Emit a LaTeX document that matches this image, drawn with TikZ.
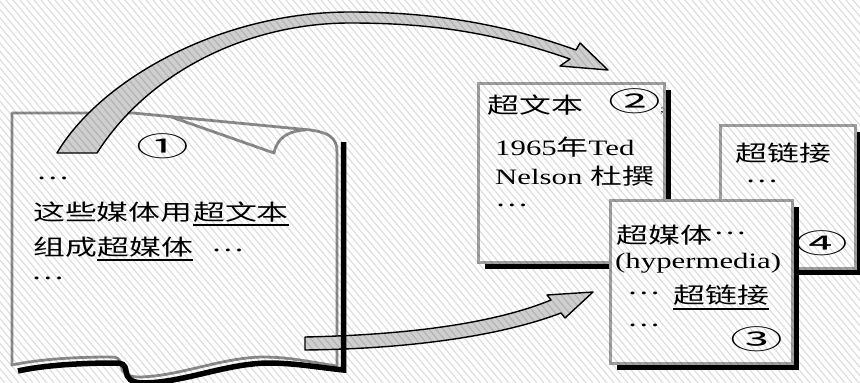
\documentclass[tikz,border=0pt]{standalone}
\usepackage{fontspec}
\setmainfont{Liberation Serif}[FakeStretch=1.4]
\newfontfamily\cjk{Noto Sans CJK SC}[FakeStretch=1.45]
\newfontfamily\circfont{Noto Sans CJK SC}[FakeStretch=1.95]
\usetikzlibrary{shadows}
\definecolor{edgegray}{HTML}{8C8C8C}
\definecolor{boxgray}{HTML}{A0A0A0}
\definecolor{arrowfill}{HTML}{CFCFCF}
\definecolor{stripe}{HTML}{DCDCDC}
\begin{document}
\begin{tikzpicture}[x=1pt,y=-1pt,
  txt/.style={inner sep=0pt, font=\fontsize{22}{26}\selectfont},
  dots/.style={inner sep=0pt, font=\fontsize{24}{26}\selectfont},
  num/.style={inner sep=0pt, font=\fontsize{27}{30}\selectfont\circfont},
  panel/.style={draw=boxgray, line width=3pt, fill=white, inner sep=0pt,
    drop shadow={shadow xshift=7pt, shadow yshift=-7pt, fill=black, opacity=1}},
  uline/.style={line width=2.2pt, black},
  blockarrow/.style={fill=arrowfill, draw=black, line width=1.4pt, line join=round},
  docedge/.style={draw=edgegray, line width=2.8pt, line join=round},
  docshadow/.style={draw=black, line width=5.5pt},
]
\useasboundingbox (0,0) rectangle (860,383);
\fill[white] (0,0) rectangle (860,383);

% ---------- left document page ----------
\path[fill=white] (12,113) -- (133,113) -- (300,129)
  .. controls (330,131) and (337,138) .. (337,152) -- (337,366)
  .. controls (310,362) and (290,357) .. (262,357)
  .. controls (220,358) and (180,376) .. (140,377)
  .. controls (125,377) and (122,372) .. (121,365)
  .. controls (120,358) and (117,357) .. (110,357)
  .. controls (70,357) and (35,360) .. (12,365) -- cycle;
\draw[docedge] (12,113) -- (133,113) -- (300,129)
  .. controls (330,131) and (337,138) .. (337,152) -- (337,366)
  .. controls (310,362) and (290,357) .. (262,357)
  .. controls (220,358) and (180,376) .. (140,377)
  .. controls (125,377) and (122,372) .. (121,365)
  .. controls (120,358) and (117,357) .. (110,357)
  .. controls (70,357) and (35,360) .. (12,365) -- cycle;
% curled corner
\draw[docedge] (170,116.5) -- (274,153)
  .. controls (277,138) and (288,131) .. (305,130);

% lower block arrow (from page to box 3)
\draw[blockarrow] (305,337) .. controls (400,335) and (490,325) .. (551,300)
  -- (547,295) -- (593,292) -- (565,318) -- (561,313)
  .. controls (495,338) and (400,349) .. (305,350) -- cycle;

% page shadow
\draw[docshadow] (343.5,142) -- (343.5,370)
  .. controls (315,367) and (295,363) .. (267,363)
  .. controls (225,364) and (185,382) .. (145,383)
  .. controls (130,383) and (127,378) .. (126,371)
  .. controls (125,364) and (122,363) .. (115,363)
  .. controls (75,363) and (40,366) .. (18,371);

% upper block arrow (from page to box 2)
\draw[blockarrow] (57,153) .. controls (100,80) and (220,12) .. (350,12)
  .. controls (450,12) and (520,30) .. (576,50)
  -- (580,43) -- (608,70) -- (560,66) -- (570,59)
  .. controls (500,35) and (440,23) .. (350,23)
  .. controls (250,23) and (150,70) .. (97,153) -- cycle;

% page text
\node[num] (n1) at (163,146) {①};
\node[dots, anchor=west] (d1) at (36,178) {…};
\node[txt, anchor=base west] (d2a) at (33,220) {\cjk 这些媒体用};
\node[txt, anchor=base west] (d2b) at (d2a.base east) {\cjk 超文本};
\node[txt, anchor=base west] (d3a) at (33,255) {\cjk 组成};
\node[txt, anchor=base west] (d3b) at (d3a.base east) {\cjk 超媒体};
\node[dots, anchor=west] (d3c) at (211,250) {…};
\node[dots, anchor=west] (d4) at (31,278) {…};
\draw[uline] ([yshift=-3pt]d2b.south west) -- ([yshift=-3pt]d2b.south east);
\draw[uline] ([yshift=-3pt]d3b.south west) -- ([yshift=-3pt]d3b.south east);

% ---------- box 2 ----------
\node[panel, minimum width=186pt, minimum height=179pt] (b2) at (571,172.5) {};
\node[txt, anchor=base west] (t2a) at (487,113) {\cjk 超文本};
\node[num] (n2) at (635,101) {②};
\node[inner sep=0pt, font=\fontsize{10}{10}\selectfont, anchor=base west] (semi) at (660,112) {;};
\node[txt, anchor=base west] (t2b) at (495,155) {1965{\cjk 年}Ted};
\node[txt, anchor=base west] (t2c) at (495,184) {Nelson {\cjk 杜撰}};
\node[dots, anchor=west] (t2d) at (495,205) {…};

% ---------- box 4 ----------
\node[panel, minimum width=135pt, minimum height=143pt] (b4) at (787.5,196.5) {};
\node[txt, anchor=base west] (t4a) at (735,161) {\cjk 超链接};
\node[dots, anchor=west] (t4b) at (745,181) {…};
\node[num] (n4) at (822,243) {④};

% ---------- box 3 ----------
\node[panel, minimum width=182pt, minimum height=163pt] (b3) at (701,281.5) {};
\coordinate (row1) at (0,233);
\node[txt, anchor=base west] (t3a) at (616,243) {\cjk 超媒体};
\node[dots, anchor=west] (t3b) at ([xshift=1pt]t3a.east |- row1) {…};
\node[txt, anchor=base west] (t3c) at (615,268) {(hypermedia)};
\node[dots, anchor=west] (t3d) at (627,293) {…};
\node[txt, anchor=base west] (t3e) at (673,303) {\cjk 超链接};
\draw[uline] ([yshift=-4pt]t3e.south west) -- ([yshift=-4pt]t3e.south east);
\node[dots, anchor=west] (t3f) at (627,325) {…};
\node[num] (n3) at (757,339) {③};

% ---------- background hatching ----------
\begin{scope}[blend mode=multiply]
  \clip (0,0) rectangle (860,383);
  \foreach \i in {-330,-323,...,860}
    \draw[stripe, line width=1.1pt] (\i,0) -- ++(321,383);
\end{scope}
\end{tikzpicture}
\end{document}
